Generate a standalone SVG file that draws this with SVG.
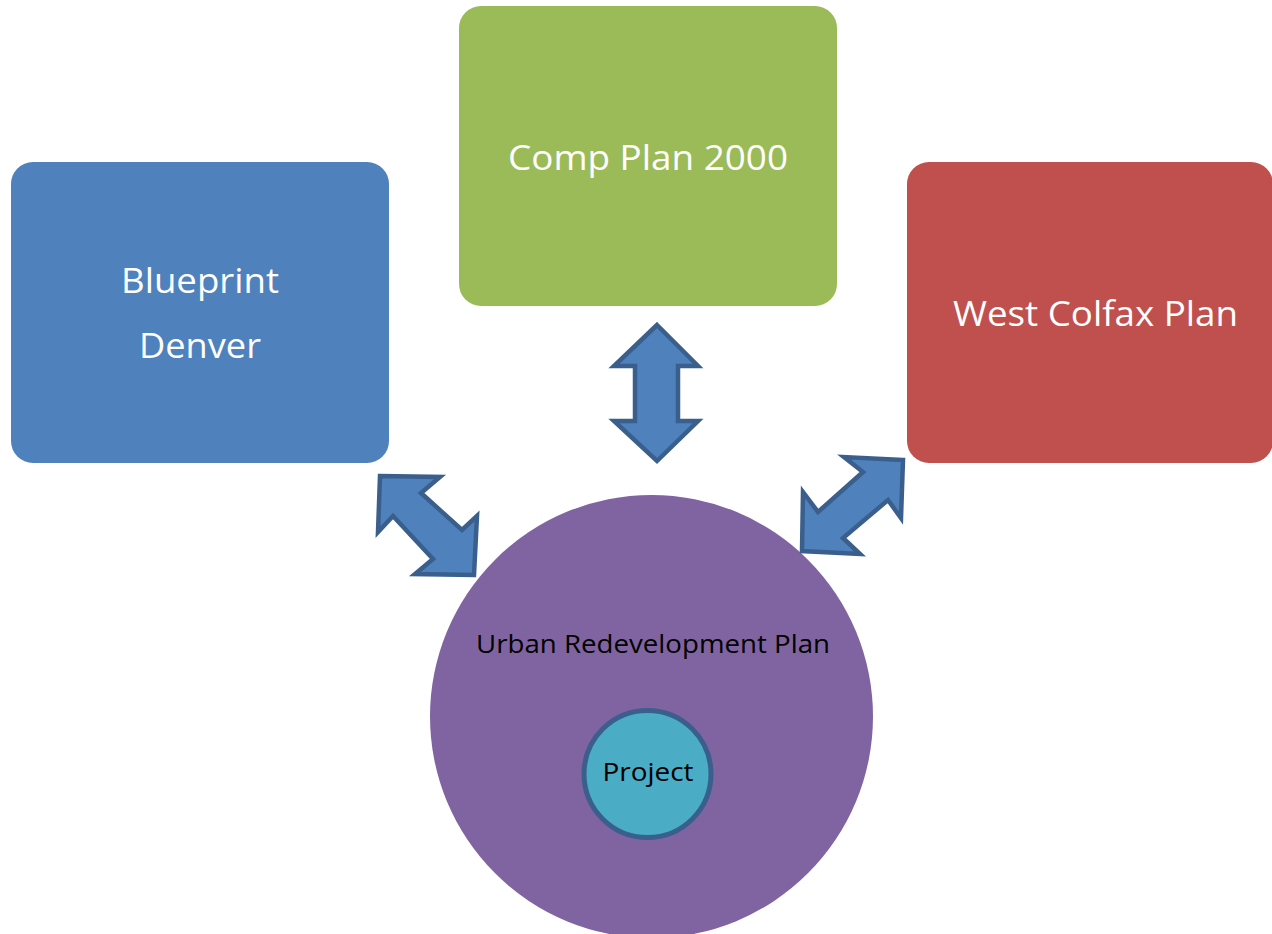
<svg xmlns="http://www.w3.org/2000/svg" width="1272" height="934" viewBox="0 0 1272 934">
<style>
.lbl{font-family:"Open Sans","Liberation Sans",sans-serif;fill:#ffffff;text-anchor:middle}
.dk{font-family:"Open Sans","Liberation Sans",sans-serif;fill:#000000;text-anchor:middle}
.arr{fill:#4f81bd;stroke:#3a5f8c;stroke-width:4.5;stroke-linejoin:miter}
</style>
<rect width="1272" height="934" fill="#ffffff"/>
<g id="urban">
<circle cx="651.5" cy="716.5" r="221.5" fill="#8064a2"/>
<text class="dk" x="653" y="653" font-size="26" textLength="354" lengthAdjust="spacingAndGlyphs">Urban Redevelopment Plan</text>
</g>
<g id="project">
<circle cx="647.5" cy="774" r="63.5" fill="#4bacc6" stroke="#3a5f8c" stroke-width="5"/>
<text class="dk" x="648" y="781" font-size="26" textLength="91" lengthAdjust="spacingAndGlyphs">Project</text>
</g>
<g id="blueprint">
<rect x="11" y="162" width="378" height="301" rx="22" fill="#4f81bd"/>
<text class="lbl" x="200" y="293" font-size="35" textLength="158" lengthAdjust="spacingAndGlyphs">Blueprint</text>
<text class="lbl" x="200" y="358" font-size="35" textLength="122" lengthAdjust="spacingAndGlyphs">Denver</text>
</g>
<g id="comp">
<rect x="459" y="6" width="378" height="300" rx="22" fill="#9bbb59"/>
<text class="lbl" x="648" y="170" font-size="35" textLength="280" lengthAdjust="spacingAndGlyphs">Comp Plan 2000</text>
</g>
<g id="westcolfax">
<rect x="907" y="162" width="366" height="301" rx="22" fill="#c0504d"/>
<text class="lbl" x="1095.5" y="326" font-size="35" textLength="285" lengthAdjust="spacingAndGlyphs">West Colfax Plan</text>
</g>
<g id="connectors">
<polygon class="arr" points="657,325 698,366 678,366 678,421 698,421 657,461 614,421 635,421 635,366 614,366"/>
<polygon class="arr" points="380,476 440,477 421,493 462,530 477,516 474,575 415,574 433,559 393,516 378,532"/>
<polygon class="arr" points="903,460 844,457 863,472 818,512 803,492 802,551 860,554 843,538 888,500 901,518"/>
</g>
</svg>
